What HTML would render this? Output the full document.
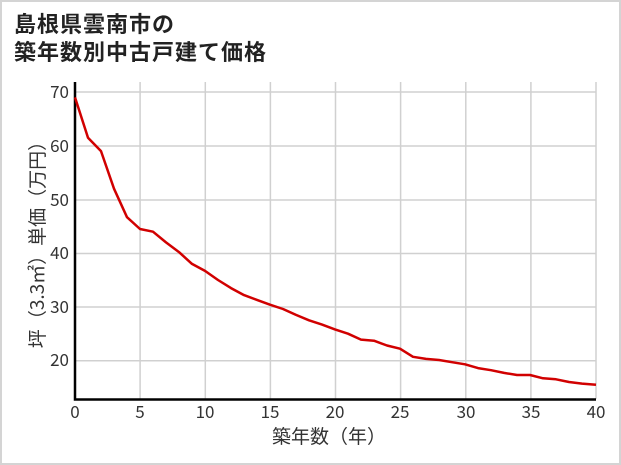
<!DOCTYPE html>
<html><head><meta charset="utf-8"><style>
html,body{margin:0;padding:0;background:#fff;}
svg{display:block;}
</style></head><body>
<svg width="621" height="465" xmlns="http://www.w3.org/2000/svg" font-family="'Liberation Sans','Noto Sans CJK JP',sans-serif">
<rect x="1" y="1" width="619" height="463" fill="#fff" stroke="#d4d4d4" stroke-width="2"/>
<text x="14" y="32" font-size="22" font-weight="bold" fill="#222" letter-spacing="1">島根県雲南市の</text>
<text x="14" y="60" font-size="22" font-weight="bold" fill="#222" letter-spacing="1">築年数別中古戸建て価格</text>
<g stroke="#d0d0d0" stroke-width="1.5">
<line x1="75" y1="92" x2="596" y2="92"/>
<line x1="75" y1="146" x2="596" y2="146"/>
<line x1="75" y1="200" x2="596" y2="200"/>
<line x1="75" y1="253.5" x2="596" y2="253.5"/>
<line x1="75" y1="307" x2="596" y2="307"/>
<line x1="75" y1="360.7" x2="596" y2="360.7"/>
<line x1="140.1" y1="82" x2="140.1" y2="399"/>
<line x1="205.3" y1="82" x2="205.3" y2="399"/>
<line x1="270.4" y1="82" x2="270.4" y2="399"/>
<line x1="335.5" y1="82" x2="335.5" y2="399"/>
<line x1="400.6" y1="82" x2="400.6" y2="399"/>
<line x1="465.8" y1="82" x2="465.8" y2="399"/>
<line x1="530.9" y1="82" x2="530.9" y2="399"/>
<line x1="596" y1="82" x2="596" y2="399"/>
</g>
<path d="M75,82 V399.5 H596" fill="none" stroke="#000" stroke-width="2.5"/>
<g font-size="17" fill="#333" text-anchor="end" font-family="'Noto Sans CJK JP',sans-serif">
<text x="69" y="98">70</text><text x="69" y="152">60</text><text x="69" y="206">50</text>
<text x="69" y="259">40</text><text x="69" y="313">30</text><text x="69" y="366">20</text>
</g>
<g font-size="17" fill="#333" text-anchor="middle" font-family="'Noto Sans CJK JP',sans-serif">
<text x="75" y="418">0</text><text x="140" y="418">5</text><text x="205" y="418">10</text>
<text x="270" y="418">15</text><text x="335" y="418">20</text><text x="400" y="418">25</text>
<text x="466" y="418">30</text><text x="531" y="418">35</text><text x="596" y="418">40</text>
</g>
<text x="329" y="443" font-size="19" fill="#333" text-anchor="middle" font-family="'Noto Sans CJK JP',sans-serif">築年数（年）</text>
<text transform="translate(44,240) rotate(-90)" font-size="19" fill="#333" text-anchor="middle" font-family="'Noto Sans CJK JP',sans-serif">坪（3.3㎡）単価（万円）</text>
<polyline fill="none" stroke="#d10000" stroke-width="2.5" stroke-linejoin="round" points="
75,97.4 88,137.7 101,151.1 114,188.7 127,217.2 140,229 153,231.7 166,242.4 179,252.1 192,263.9 205,270.9 218,280 231,288.1 244,295.1 257,299.9 270,304.7 283,309 296,314.9 309,320.3 322,324.6 335,329.4 348,333.7 361,339.6 374,340.7 387,345.5 400,348.7 413,356.8 426,358.9 439,360 452,362.2 465,364.3 478,368.1 491,370.2 504,372.9 517,375 530,375 543,378.3 556,379.3 569,382 582,383.6 596,384.7"/>
</svg>
</body></html>
